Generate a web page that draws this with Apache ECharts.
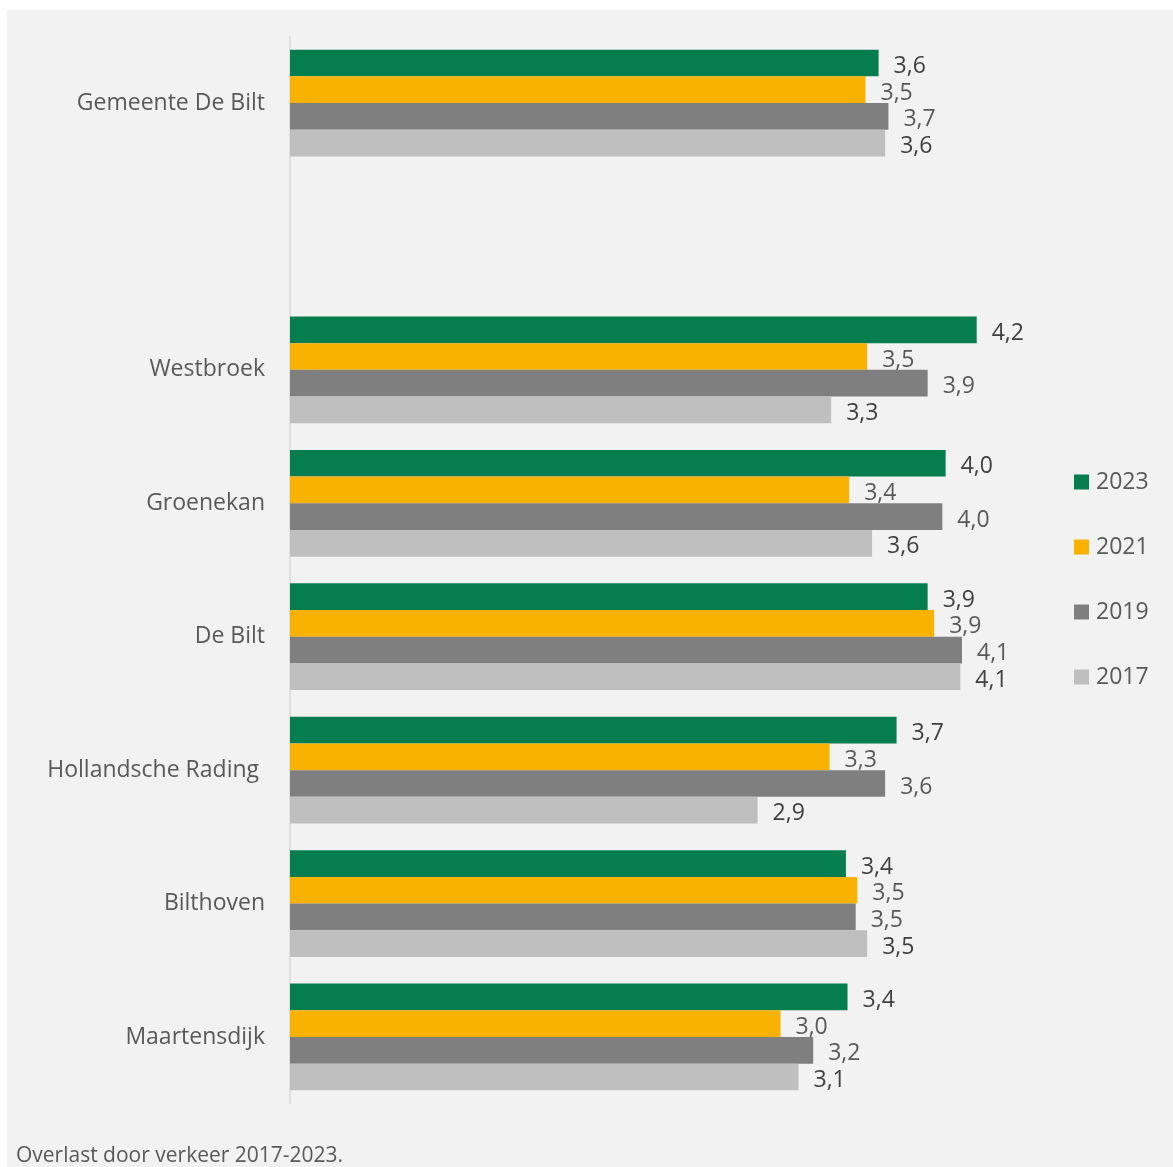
<!DOCTYPE html>
<html>
<head>
<meta charset="utf-8">
<script src="https://cdn.jsdelivr.net/npm/echarts@6/dist/echarts.min.js"></script>
<style>
html,body{margin:0;padding:0;background:#ffffff;}
#chart{width:1173px;height:1167px;}
</style>
</head>
<body>
<div id="chart"></div>
<script>
const categories = ['Gemeente De Bilt', '', 'Westbroek', 'Groenekan', 'De Bilt', 'Hollandsche Rading ', 'Bilthoven', 'Maartensdijk'];
const seriesNames = ['2023', '2021', '2019', '2017'];
const values2023 = [3.60, null, 4.20, 4.01, 3.90, 3.71, 3.40, 3.41];
const values2021 = [3.52, null, 3.53, 3.42, 3.94, 3.30, 3.47, 3.00];
const values2019 = [3.66, null, 3.90, 3.99, 4.11, 3.64, 3.46, 3.20];
const values2017 = [3.64, null, 3.31, 3.56, 4.10, 2.86, 3.53, 3.11];
const caption = 'Overlast door verkeer 2017-2023.';
const colors = ['#067d4f', '#f9b200', '#7f7f7f', '#bfbfbf'];
const labelColors = ['#404040', '#595959', '#595959', '#404040'];

const FONT = '"Open Sans"';
const FS = 23;
const allValues = [values2023, values2021, values2019, values2017];

const chart = echarts.init(document.getElementById('chart'), null, {renderer: 'canvas'});
const option = {
  backgroundColor: '#ffffff',
  animation: false,
  graphic: [
    {type: 'rect', left: 7, top: 10, shape: {width: 1166, height: 1157}, style: {fill: '#f2f2f2'}, z: -10, silent: true},
    {type: 'text', left: 16, top: 1146, style: {text: caption, font: '21px ' + FONT, fill: '#595959'}, z: 10}
  ],
  grid: {left: 290, top: 36.3, height: 1067.4, right: 65.5, containLabel: false},
  legend: {
    orient: 'vertical',
    left: 1069,
    top: 462,
    itemWidth: 15,
    itemHeight: 15,
    itemGap: 35,
    icon: 'rect',
    data: seriesNames,
    textStyle: {fontFamily: FONT, fontSize: FS, color: '#595959', lineHeight: 30, padding: [0, 0, 0, 2]}
  },
  xAxis: {type: 'value', min: 0, max: 5, show: false, splitLine: {show: false}},
  yAxis: {
    type: 'category',
    inverse: true,
    data: categories,
    axisTick: {show: false},
    axisLine: {show: true, lineStyle: {color: '#d9d9d9', width: 1.5}},
    axisLabel: {fontFamily: FONT, fontSize: FS, color: '#595959', margin: 25, padding: [5, 0, 0, 0]}
  },
  series: seriesNames.map((name, i) => ({
    name: name,
    type: 'bar',
    data: allValues[i],
    barGap: '0%',
    barCategoryGap: '20%',
    itemStyle: {color: colors[i]},
    label: {
      show: true,
      position: 'right',
      distance: 15,
      offset: [0, 3.5],
      fontFamily: FONT,
      fontSize: FS,
      color: labelColors[i],
      formatter: p => p.value == null ? '' : p.value.toFixed(1).replace('.', ',')
    }
  }))
};
chart.setOption(option);
</script>
</body>
</html>
